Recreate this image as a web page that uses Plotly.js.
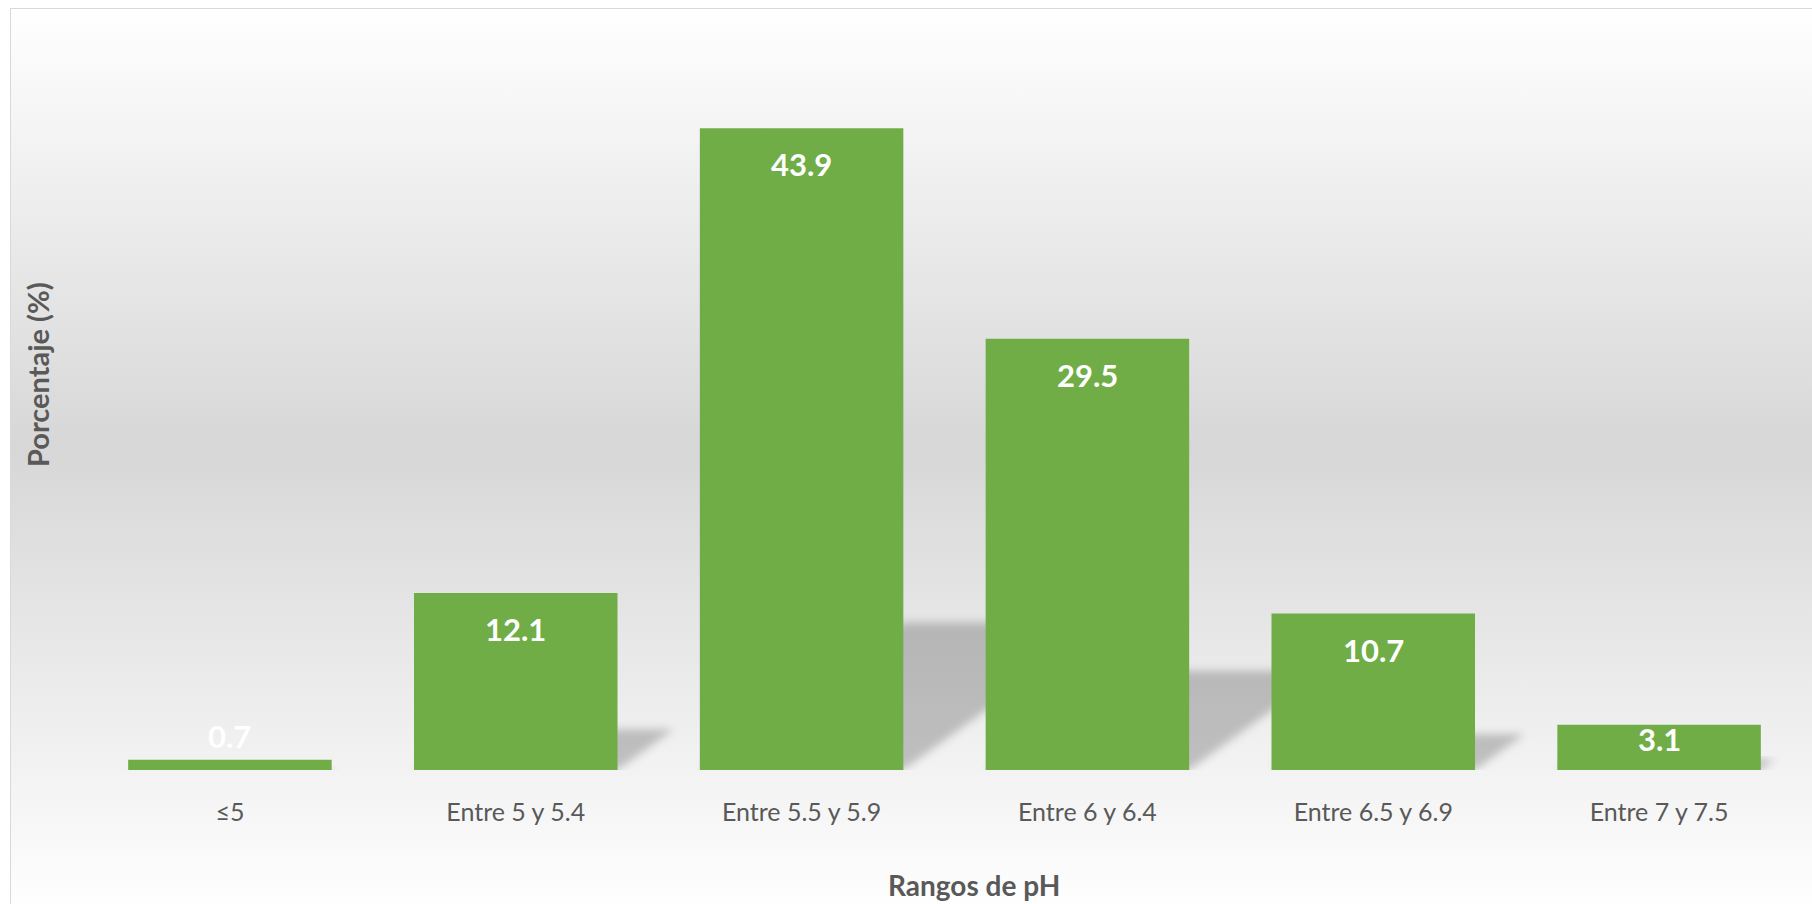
<!DOCTYPE html>
<html>
<head>
<meta charset="utf-8">
<script src="https://cdn.plot.ly/plotly-3.0.1.min.js"></script>
<style>
html, body { margin: 0; padding: 0; background: #ffffff; }
#frame {
  position: absolute; left: 10px; top: 8px; width: 1802px; height: 896px;
  box-sizing: border-box;
  border-left: 1.5px solid #d9d9d9; border-top: 1.5px solid #d9d9d9;
  background: linear-gradient(to bottom, #ffffff 0%, #d7d7d7 49%, #fefefe 100%);
}
#chart { position: absolute; left: 0; top: 0; width: 1812px; height: 904px; }
</style>
</head>
<body>
<div id="frame"></div>
<div id="chart"></div>
<svg width="0" height="0" style="position:absolute">
  <defs>
    <filter id="shblur" x="-30%" y="-30%" width="160%" height="160%">
      <feGaussianBlur stdDeviation="4"></feGaussianBlur>
    </filter>
  </defs>
</svg>
<script>
// ---- data ----
const categories = ['≤5', 'Entre 5 y 5.4', 'Entre 5.5 y 5.9', 'Entre 6 y 6.4', 'Entre 6.5 y 6.9', 'Entre 7 y 7.5'];
const percentages = [0.7, 12.1, 43.9, 29.5, 10.7, 3.1];
const xTitle = 'Rangos de pH';
const yTitle = 'Porcentaje (%)';

// ---- styling ----
const W = 1812, H = 904;
const margin = { l: 87, r: 10, t: 39, b: 134 };
const yMax = 50;
const bargap = 0.288;
const barWidth = 1 - bargap;
const green = '#70AD47';
const textGray = '#595959';
const fontFamily = 'Lato, "Open Sans", sans-serif';

const plotH = H - margin.t - margin.b;
const plotW = W - margin.l - margin.r;
const pxPerUnitY = plotH / yMax;
const pxPerUnitX = plotW / categories.length;

const idx = categories.map((_, i) => i);

// perspective shadows (Excel "diagonal upper right"): height 23% of bar, skewed right
const shapes = percentages.map((v, i) => {
  const hs = 0.23 * v;
  const dx = 1.38 * hs * pxPerUnitY / pxPerUnitX;
  const x0 = i - barWidth / 2, x1 = i + barWidth / 2;
  return {
    type: 'path', xref: 'x', yref: 'y', layer: 'below',
    path: `M ${x0},0 L ${x1},0 L ${x1 + dx},${hs} L ${x0 + dx},${hs} Z`,
    fillcolor: 'rgba(0,0,0,0.21)', line: { width: 0 }
  };
});

// data labels: inside end, or above when bar is too short
const labelAnnotations = percentages.map((v, i) => {
  const hpx = v * pxPerUnitY;
  let shift;
  if (hpx > 80) shift = -36;
  else if (hpx > 30) shift = -14;
  else shift = 24;
  return {
    x: i, y: v, xref: 'x', yref: 'y', text: v.toFixed(1), showarrow: false,
    yanchor: 'middle', xanchor: 'center', yshift: shift,
    font: { family: fontFamily, size: 31, color: '#ffffff', weight: 'bold' }
  };
});

const titleAnnotations = [
  {
    text: '<b>' + xTitle + '</b>', xref: 'paper', yref: 'paper', x: 0.517, y: 0,
    yshift: -115, xanchor: 'center', yanchor: 'middle', showarrow: false,
    font: { family: fontFamily, size: 28, color: textGray }
  },
  {
    text: '<b>' + yTitle + '</b>', xref: 'paper', yref: 'paper', x: 0, y: (H - margin.b - 375) / plotH,
    xshift: -50, xanchor: 'center', yanchor: 'middle', textangle: -90, showarrow: false,
    font: { family: fontFamily, size: 29, color: textGray }
  }
];

const trace = {
  type: 'bar', x: idx, y: percentages,
  marker: { color: green, line: { width: 0 } },
  hoverinfo: 'skip'
};

const layout = {
  width: W, height: H, margin: margin,
  paper_bgcolor: 'rgba(0,0,0,0)', plot_bgcolor: 'rgba(0,0,0,0)',
  bargap: bargap, showlegend: false,
  font: { family: fontFamily, color: textGray },
  xaxis: {
    type: 'linear', range: [-0.5, categories.length - 0.5],
    tickmode: 'array', tickvals: idx, ticktext: categories,
    showgrid: false, zeroline: false, showline: false, ticks: '',
    ticklabelstandoff: 25,
    tickfont: { family: fontFamily, size: 25, color: textGray },
    fixedrange: true
  },
  yaxis: {
    range: [0, yMax], visible: false, showgrid: false, zeroline: false, fixedrange: true
  },
  shapes: shapes,
  annotations: labelAnnotations.concat(titleAnnotations)
};

Plotly.newPlot('chart', [trace], layout, { displayModeBar: false, staticPlot: true }).then(gd => {
  gd.querySelectorAll('.shapelayer path').forEach(p => p.setAttribute('filter', 'url(#shblur)'));
});
</script>
</body>
</html>
